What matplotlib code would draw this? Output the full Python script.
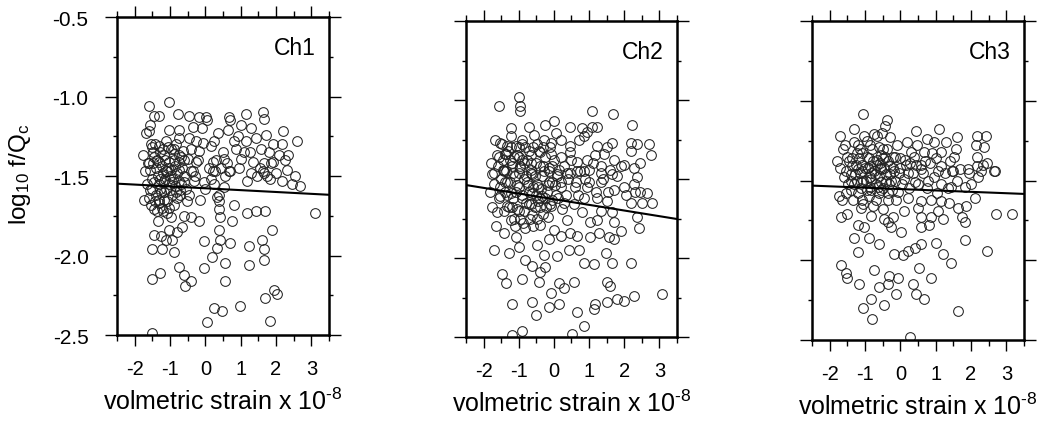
import numpy as np
import matplotlib
matplotlib.use("Agg")
import matplotlib.pyplot as plt
from matplotlib.ticker import MultipleLocator, FormatStrFormatter

plt.rcParams['font.family'] = ['Liberation Sans', 'DejaVu Sans']
plt.rcParams['mathtext.fontset'] = 'custom'
plt.rcParams['mathtext.rm'] = 'Liberation Sans'
plt.rcParams['mathtext.it'] = 'Liberation Sans:italic'
plt.rcParams['axes.unicode_minus'] = False

# (volumetric strain x1e-8, log10 f/Qc)
ch1 = np.array([
    (-1.60, -1.06), (-1.04, -1.035), (-1.30, -1.12), (-0.78, -1.11), (-0.45, -1.12), (-0.19, -1.13),
    (0.02, -1.13), (0.68, -1.13), (0.71, -1.15), (1.15, -1.11), (1.64, -1.10), (1.67, -1.14),
    (-1.60, -1.22), (-1.02, -1.21), (-0.74, -1.21), (-0.36, -1.19), (0.35, -1.23), (0.63, -1.21),
    (2.19, -1.22), (2.59, -1.28), (2.17, -1.30), (-1.54, -1.30), (-1.30, -1.31), (-1.07, -1.32),
    (-0.74, -1.26), (-0.45, -1.26), (-0.26, -1.28), (-0.08, -1.29), (0.16, -1.31), (0.92, -1.25),
    (1.15, -1.28), (1.43, -1.26), (1.72, -1.24), (1.91, -1.30), (-1.77, -1.37), (-1.49, -1.35),
    (-1.16, -1.37), (-0.88, -1.36), (-0.64, -1.34), (-0.41, -1.33), (-0.17, -1.34), (0.49, -1.35),
    (0.87, -1.33), (1.25, -1.35), (1.58, -1.33), (1.81, -1.35), (2.09, -1.37), (2.33, -1.37),
    (-1.63, -1.42), (-1.30, -1.41), (-1.02, -1.41), (-0.74, -1.41), (-0.50, -1.39), (-0.26, -1.41),
    (0.21, -1.41), (0.54, -1.39), (1.01, -1.39), (1.34, -1.41), (1.67, -1.42), (1.91, -1.41),
    (2.24, -1.40), (-1.11, -1.47), (-0.74, -1.46), (-0.36, -1.47), (0.21, -1.47), (0.68, -1.47),
    (1.62, -1.47),
    (-1.56, -1.46), (-1.08, -1.47), (-0.42, -1.47), (0.28, -1.47), (0.71, -1.47), (1.65, -1.48),
    (1.84, -1.52), (2.17, -1.53), (2.45, -1.55), (2.69, -1.56), (1.18, -1.53), (1.46, -1.50),
    (-1.46, -1.54), (-1.18, -1.53), (-0.94, -1.54), (-0.61, -1.54), (-0.33, -1.53), (-0.05, -1.54),
    (0.24, -1.55), (0.52, -1.57), (-1.56, -1.59), (-1.27, -1.58), (-0.99, -1.59), (-0.71, -1.59),
    (-0.47, -1.62), (-0.14, -1.65), (0.33, -1.63), (-1.60, -1.64), (-1.32, -1.65), (-1.08, -1.66),
    (-0.80, -1.64), (-1.46, -1.71), (-1.23, -1.70), (-1.08, -1.73), (-1.32, -1.67), (-0.52, -1.66),
    (0.38, -1.66), (0.80, -1.68), (0.75, -1.78), (1.18, -1.73), (1.42, -1.72), (1.70, -1.72),
    (3.11, -1.73), (0.38, -1.71), (0.42, -1.76), (-0.42, -1.76), (-0.19, -1.78), (-1.04, -1.84),
    (-0.80, -1.85), (0.38, -1.84), (-1.46, -1.87), (-0.94, -1.90), (-0.05, -1.91), (0.42, -1.90),
    (0.71, -1.92), (1.23, -1.94), (1.60, -1.90), (1.65, -1.96), (1.89, -1.84), (-1.51, -1.96),
    (-1.23, -1.96), (-0.90, -1.98), (0.19, -2.01), (0.33, -1.95), (0.57, -2.05), (1.23, -2.06),
    (1.65, -2.03), (-0.75, -2.07), (-0.05, -2.08), (-1.27, -2.11), (-1.51, -2.15), (-0.61, -2.12),
    (-0.42, -2.16), (-0.57, -2.19), (0.57, -2.16), (1.70, -2.27), (1.93, -2.22), (2.03, -2.24),
    (0.24, -2.33), (0.47, -2.35), (0.99, -2.32), (0.05, -2.42), (1.84, -2.41), (-1.51, -2.49),
    (-1.45, -1.38), (-1.40, -1.45), (-1.35, -1.50), (-1.30, -1.55), (-1.25, -1.60), (-1.20, -1.48),
    (-1.15, -1.52), (-1.10, -1.58), (-1.05, -1.45), (-1.00, -1.50), (-0.95, -1.62), (-0.90, -1.40),
    (-0.85, -1.56), (-0.80, -1.48), (-0.75, -1.53), (-0.70, -1.38), (-0.65, -1.45), (-1.50, -1.52),
    (-1.55, -1.68), (-1.38, -1.72), (-1.18, -1.65), (-1.02, -1.70), (-0.88, -1.68), (-0.72, -1.62),
    (-1.42, -1.30), (-1.28, -1.35), (-1.12, -1.28), (-0.98, -1.33), (-0.82, -1.30), (-0.60, -1.50),
    (-0.55, -1.58), (0.10, -1.45), (0.15, -1.52), (0.30, -1.40), (0.55, -1.50), (0.45, -1.45),
    (1.55, -1.45), (1.75, -1.50), (1.85, -1.42), (2.00, -1.48), (-0.30, -1.50), (-0.20, -1.40),
    (-1.60, -1.42), (-1.65, -1.55), (-1.72, -1.47), (-1.75, -1.65), (-1.68, -1.23), (-1.58, -1.18),
    (-1.45, -1.12), (-0.60, -1.75), (-0.65, -1.82), (-1.10, -1.90), (-1.25, -1.88), (0.00, -1.58),
    (0.40, -1.62), (-0.10, -1.20), (0.05, -1.15), (1.00, -1.18), (1.30, -1.20), (0.80, -1.28),
    (-1.48, -1.42), (-1.36, -1.40), (-1.22, -1.44), (-1.14, -1.40), (-0.96, -1.46), (-0.86, -1.44),
    (-0.76, -1.37), (-1.52, -1.58), (-1.40, -1.62), (-1.28, -1.52), (-1.16, -1.60), (-1.04, -1.55),
    (-0.92, -1.52), (-0.84, -1.60), (-0.68, -1.55), (-1.42, -1.66), (-1.20, -1.72), (-0.96, -1.76),
    (-1.34, -1.78), (-1.50, -1.32), (-1.20, -1.33), (-0.90, -1.33), (-0.60, -1.40), (0.60, -1.42),
    (0.95, -1.45), (1.30, -1.48), (2.30, -1.46), (2.55, -1.50), (1.10, -1.35), (0.25, -1.28),
])

ch2 = np.array([
    (-1.00, -0.98), (-0.95, -1.04), (-1.56, -1.04), (-0.95, -1.07), (1.09, -1.07), (1.69, -1.09),
    (2.23, -1.16), (0.47, -1.17), (0.00, -1.13), (0.81, -1.18), (0.95, -1.20), (1.09, -1.17),
    (1.23, -1.17), (-1.23, -1.18), (-0.71, -1.17), (-0.24, -1.16), (0.05, -1.21), (0.19, -1.25),
    (-1.23, -1.23), (-0.90, -1.25), (-0.57, -1.22), (-0.28, -1.25), (-0.09, -1.27), (-1.52, -1.27),
    (-1.33, -1.29), (-1.09, -1.29), (-0.81, -1.30), (-0.47, -1.28), (0.47, -1.29), (0.71, -1.25),
    (0.85, -1.23), (1.23, -1.29), (1.52, -1.30), (1.66, -1.27), (2.18, -1.27), (2.37, -1.28),
    (2.70, -1.28), (2.75, -1.35), (2.18, -1.32), (2.46, -1.40), (-1.61, -1.35), (-1.37, -1.34),
    (-1.14, -1.36), (-0.90, -1.38), (-0.66, -1.35), (-0.38, -1.33), (-0.09, -1.34), (0.19, -1.36),
    (0.47, -1.33), (0.66, -1.39), (0.95, -1.38), (1.18, -1.35), (1.42, -1.34), (1.71, -1.38),
    (1.99, -1.41), (2.27, -1.43), (-1.71, -1.46), (-1.42, -1.44), (-1.18, -1.42), (-0.95, -1.43),
    (-0.66, -1.44), (-0.38, -1.42), (-0.14, -1.43), (0.14, -1.44), (0.38, -1.46), (0.66, -1.45),
    (1.00, -1.44), (1.33, -1.42), (1.61, -1.44), (1.90, -1.42),
    (-1.75, -1.47), (-1.42, -1.45), (-1.00, -1.46), (-0.62, -1.47), (-0.28, -1.45), (0.09, -1.47),
    (0.47, -1.46), (0.85, -1.45), (1.33, -1.46), (1.66, -1.47), (2.37, -1.49), (-1.71, -1.53),
    (-1.33, -1.52), (-1.04, -1.54), (-0.76, -1.52), (-0.47, -1.53), (-0.14, -1.52), (0.19, -1.52),
    (0.62, -1.52), (0.95, -1.55), (1.33, -1.52), (1.71, -1.57), (1.99, -1.55), (2.27, -1.53),
    (2.46, -1.58), (2.65, -1.59), (2.80, -1.65), (2.51, -1.65), (2.18, -1.65), (-1.52, -1.61),
    (-1.23, -1.59), (-0.90, -1.62), (-0.62, -1.59), (-0.33, -1.61), (-0.05, -1.63), (0.28, -1.65),
    (0.57, -1.66), (1.23, -1.62), (1.52, -1.64), (-1.61, -1.71), (-1.33, -1.67), (-1.04, -1.69),
    (-0.66, -1.66), (-0.38, -1.68), (-0.09, -1.67), (0.24, -1.69), (1.33, -1.70), (1.66, -1.71),
    (2.37, -1.74), (0.81, -1.71), (1.04, -1.77), (1.23, -1.76), (1.71, -1.77), (2.42, -1.81),
    (-1.23, -1.76), (-0.95, -1.75), (-0.62, -1.73), (-0.38, -1.79), (0.00, -1.82), (0.38, -1.76),
    (0.66, -1.86), (1.04, -1.87), (1.28, -1.84), (1.56, -1.87), (1.71, -1.88), (1.90, -1.83),
    (-1.42, -1.84), (-1.09, -1.87), (-0.81, -1.81), (-0.14, -1.88), (0.19, -1.86), (0.47, -1.84),
    (-1.71, -1.95), (-1.28, -1.97), (-1.00, -1.93), (-0.47, -1.92), (-0.28, -1.98), (0.09, -1.99),
    (0.43, -1.95), (0.71, -1.95), (0.85, -2.03), (1.14, -2.04), (1.47, -1.97), (1.66, -2.03),
    (2.18, -2.03), (-0.81, -2.01), (-0.62, -2.05), (-1.47, -2.10), (-1.37, -2.16), (-0.90, -2.13),
    (-0.38, -2.09), (-0.43, -2.15), (-0.24, -2.06), (0.14, -2.16), (0.28, -2.19), (0.57, -2.15),
    (1.52, -2.15), (1.61, -2.18), (-0.09, -2.22), (-0.62, -2.28), (-1.18, -2.29), (0.14, -2.29),
    (-0.14, -2.31), (0.66, -2.34), (1.18, -2.29), (1.14, -2.32), (1.52, -2.28), (1.80, -2.26),
    (1.99, -2.27), (2.27, -2.24), (3.08, -2.23), (-0.52, -2.36), (0.85, -2.43), (-0.90, -2.46),
    (-1.18, -2.49), (0.52, -2.48),
    (-1.60, -1.42), (-1.50, -1.50), (-1.45, -1.38), (-1.40, -1.58), (-1.35, -1.45), (-1.30, -1.32),
    (-1.25, -1.52), (-1.20, -1.40), (-1.15, -1.62), (-1.10, -1.48), (-1.05, -1.35), (-1.00, -1.55),
    (-0.95, -1.42), (-0.90, -1.28), (-0.85, -1.50), (-0.80, -1.65), (-0.75, -1.38), (-0.70, -1.58),
    (-0.65, -1.46), (-0.60, -1.30), (-0.55, -1.68), (-0.50, -1.40), (-0.45, -1.55), (-0.40, -1.62),
    (-0.35, -1.48), (-0.30, -1.72), (-0.25, -1.36), (-0.20, -1.58), (-0.15, -1.45), (-0.10, -1.66),
    (-0.05, -1.52), (0.00, -1.38), (0.05, -1.60), (0.10, -1.48), (-1.55, -1.62), (-1.48, -1.28),
    (-1.42, -1.70), (-1.28, -1.68), (-1.22, -1.30), (-1.12, -1.75), (-0.98, -1.70), (-0.88, -1.78),
    (-0.78, -1.48), (-0.68, -1.75), (-0.58, -1.55), (-0.48, -1.75), (-0.42, -1.32), (-0.32, -1.42),
    (-0.22, -1.68), (-0.12, -1.30), (0.20, -1.55), (0.30, -1.42), (0.35, -1.60), (0.50, -1.38),
    (0.60, -1.55), (0.75, -1.45), (0.85, -1.62), (1.00, -1.52), (1.10, -1.40), (1.40, -1.50),
    (1.55, -1.58), (1.80, -1.48), (2.05, -1.60), (2.30, -1.58), (-1.68, -1.25), (-1.78, -1.40),
    (-1.82, -1.58), (-1.75, -1.68), (-1.65, -1.80),
    (-1.56, -1.36), (-1.46, -1.44), (-1.38, -1.52), (-1.26, -1.38), (-1.16, -1.46), (-1.08, -1.58),
    (-0.98, -1.36), (-0.92, -1.60), (-0.84, -1.40), (-0.74, -1.54), (-0.64, -1.40), (-0.54, -1.48),
    (-0.46, -1.64), (-0.36, -1.56), (-0.26, -1.62), (-0.16, -1.54), (-0.06, -1.42), (0.04, -1.54),
    (-1.52, -1.55), (-1.32, -1.60), (-1.18, -1.68), (-0.86, -1.70), (-0.72, -1.66), (-0.52, -1.60),
    (-0.18, -1.74), (0.12, -1.62), (-1.40, -1.34), (-1.00, -1.30), (-0.70, -1.32), (-0.30, -1.30),
    (0.40, -1.50), (0.70, -1.60), (0.90, -1.50), (1.20, -1.58), (-1.10, -1.80), (-0.60, -1.80),
])

ch3 = np.array([
    (-1.06, -1.08), (-0.38, -1.12), (-0.43, -1.16), (-1.32, -1.18), (-1.70, -1.22), (-1.04, -1.22),
    (-0.76, -1.21), (-0.52, -1.20), (-0.28, -1.23), (0.43, -1.19), (1.09, -1.18), (1.61, -1.23),
    (2.18, -1.22), (2.41, -1.22), (-1.56, -1.28), (-1.32, -1.26), (-1.14, -1.30), (-0.85, -1.28),
    (-0.61, -1.29), (-0.38, -1.30), (-0.09, -1.28), (0.19, -1.26), (0.47, -1.28), (0.76, -1.24),
    (0.95, -1.26), (1.28, -1.26), (1.56, -1.30), (2.13, -1.28), (2.37, -1.29), (-1.51, -1.35),
    (-1.23, -1.33), (-0.95, -1.35), (-0.66, -1.37), (-0.43, -1.35), (-0.14, -1.35), (0.14, -1.37),
    (0.38, -1.35), (0.66, -1.32), (0.90, -1.33), (1.14, -1.32), (1.51, -1.35), (2.18, -1.35),
    (-1.70, -1.42), (-1.37, -1.41), (-1.09, -1.40), (-0.85, -1.41), (-0.57, -1.39), (-0.28, -1.41),
    (0.00, -1.42), (0.28, -1.39), (0.57, -1.40), (0.85, -1.39), (1.14, -1.41), (1.47, -1.44),
    (1.70, -1.43), (2.18, -1.41), (2.46, -1.39), (2.65, -1.44), (1.94, -1.45),
    (-1.55, -1.44), (-1.21, -1.43), (-0.83, -1.45), (-0.55, -1.43), (-0.17, -1.44), (0.21, -1.45),
    (0.59, -1.43), (1.06, -1.44), (1.49, -1.44), (1.91, -1.43), (2.29, -1.44), (2.67, -1.44),
    (-1.40, -1.50), (-1.12, -1.51), (-0.83, -1.49), (-0.55, -1.51), (-0.27, -1.50), (0.11, -1.49),
    (0.40, -1.51), (0.78, -1.50), (1.16, -1.52), (1.44, -1.54), (1.82, -1.54), (2.10, -1.61),
    (-1.40, -1.56), (-1.12, -1.55), (-0.83, -1.56), (-0.55, -1.56), (-0.36, -1.58), (-0.08, -1.57),
    (0.21, -1.61), (0.59, -1.63), (0.87, -1.62), (1.16, -1.63), (1.39, -1.64), (1.63, -1.67),
    (1.87, -1.66), (2.72, -1.71), (3.15, -1.71), (-1.69, -1.73), (-1.50, -1.71), (-1.12, -1.67),
    (-0.83, -1.72), (-0.50, -1.68), (-0.45, -1.74), (-0.22, -1.73), (0.11, -1.69), (0.49, -1.67),
    (0.59, -1.73), (0.87, -1.73), (1.06, -1.69), (1.20, -1.74), (1.73, -1.73), (1.82, -1.76),
    (-1.21, -1.78), (-1.02, -1.79), (-1.31, -1.86), (-0.88, -1.86), (-0.60, -1.90), (-0.27, -1.79),
    (-0.36, -1.76), (0.02, -1.82), (0.59, -1.79), (0.82, -1.78), (1.82, -1.87), (2.44, -1.94),
    (-1.21, -1.95), (-0.17, -1.96), (0.07, -1.97), (0.21, -1.94), (0.40, -1.92), (0.59, -1.90),
    (1.01, -1.89), (1.20, -1.96), (1.44, -2.02), (-1.69, -2.03), (-1.55, -2.08), (-1.50, -2.11),
    (-1.17, -2.15), (-0.74, -2.06), (-0.31, -2.10), (-0.08, -2.11), (-0.60, -2.17), (-0.36, -2.15),
    (0.54, -2.05), (0.87, -2.11), (0.35, -2.15), (0.45, -2.21), (0.68, -2.24), (-0.12, -2.21),
    (-0.83, -2.24), (-1.07, -2.30), (-0.45, -2.28), (-0.79, -2.37), (1.63, -2.32), (0.26, -2.48),
    (-1.45, -1.38), (-1.40, -1.46), (-1.30, -1.52), (-1.25, -1.40), (-1.20, -1.58), (-1.15, -1.45),
    (-1.10, -1.33), (-1.05, -1.50), (-1.00, -1.42), (-0.95, -1.56), (-0.90, -1.36), (-0.85, -1.48),
    (-0.80, -1.30), (-0.75, -1.44), (-0.70, -1.52), (-0.65, -1.40), (-0.60, -1.47), (-0.55, -1.34),
    (-0.50, -1.55), (-0.45, -1.42), (-0.40, -1.50), (-0.35, -1.38), (-0.30, -1.46), (-0.25, -1.56),
    (-0.20, -1.35), (-0.15, -1.50), (-0.05, -1.45), (0.05, -1.52), (0.15, -1.40), (0.25, -1.55),
    (0.35, -1.45), (0.50, -1.52), (0.65, -1.45), (0.75, -1.55), (0.95, -1.48), (1.05, -1.58),
    (1.25, -1.45), (1.35, -1.55), (1.60, -1.50), (2.00, -1.52), (2.20, -1.48), (2.35, -1.40),
    (-1.60, -1.48), (-1.75, -1.60), (-1.78, -1.38), (-1.65, -1.62), (-1.55, -1.58), (-1.35, -1.62),
    (-1.05, -1.65), (-0.70, -1.62), (-0.95, -1.25), (-0.65, -1.22), (-0.50, -1.30), (-1.20, -1.28),
    (-1.36, -1.36), (-1.28, -1.46), (-1.18, -1.36), (-1.08, -1.44), (-0.98, -1.50), (-0.92, -1.42),
    (-0.86, -1.54), (-0.78, -1.38), (-0.72, -1.46), (-0.62, -1.54), (-0.58, -1.42), (-0.48, -1.36),
    (-0.42, -1.46), (-0.32, -1.52), (-0.22, -1.42), (-1.48, -1.52), (-1.22, -1.50), (-0.88, -1.60),
    (-0.60, -1.58), (-0.35, -1.62), (0.00, -1.36), (0.30, -1.32), (0.45, -1.40), (0.70, -1.38),
    (1.00, -1.36), (1.40, -1.38), (-1.62, -1.30), (-1.10, -1.62), (-0.78, -1.66), (-0.12, -1.62),
])

# fitted straight lines, values at the x limits
line_x = [-2.5, 3.5]
ch1_fit = [-1.548, -1.618]
ch2_fit = [-1.538, -1.753]
ch3_fit = [-1.532, -1.584]

panels = [("Ch1", ch1, ch1_fit), ("Ch2", ch2, ch2_fit), ("Ch3", ch3, ch3_fit)]
# axes boxes in figure fraction (left, bottom, width, height)
boxes = [(0.1105, 0.2131, 0.2002, 0.7447),
         (0.4400, 0.2084, 0.1992, 0.7400),
         (0.7668, 0.2014, 0.2002, 0.7470)]

fig = plt.figure(figsize=(10.59, 4.27), dpi=100)

for i, (name, pts, fit) in enumerate(panels):
    ax = fig.add_axes(boxes[i])
    ax.plot(pts[:, 0], pts[:, 1], 'o', mfc='none', mec='#222222', ms=7, mew=0.75)
    ax.plot(line_x, fit, color='black', lw=1.5)
    ax.set_xlim(-2.5, 3.5)
    ax.set_ylim(-2.5, -0.5)
    ax.xaxis.set_major_locator(MultipleLocator(1))
    ax.xaxis.set_minor_locator(MultipleLocator(0.5))
    ax.yaxis.set_major_locator(MultipleLocator(0.5))
    ax.yaxis.set_minor_locator(MultipleLocator(0.25))
    ax.yaxis.set_major_formatter(FormatStrFormatter('%.1f'))
    ax.tick_params(axis='x', which='major', direction='out', length=8, width=1.0,
                   top=True, bottom=True, labelsize=14.5, pad=9)
    ax.tick_params(axis='x', which='minor', direction='out', length=4, width=1.0,
                   top=True, bottom=True)
    ax.tick_params(axis='y', which='major', direction='out', length=8.5, width=1.0,
                   left=True, right=True, labelsize=15, pad=12, labelleft=(i == 0))
    ax.tick_params(axis='y', which='minor', direction='out', length=3, width=1.0,
                   left=True, right=True)
    for sp in ax.spines.values():
        sp.set_linewidth(1.8)
    ax.text(0.935, 0.94, name, transform=ax.transAxes, ha='right', va='top', fontsize=16.5)
    ax.set_xlabel(r"volmetric strain x 10$^{\text{-8}}$", fontsize=18)
    ax.xaxis.set_label_coords(0.5, -0.165)
    if i == 0:
        ax.set_ylabel(r"log$_{\mathrm{10}}$ f/Q$_{\mathrm{c}}$", fontsize=17.5)
        ax.yaxis.set_label_coords(-0.395, 0.51)

fig.savefig("out.png", dpi=100)
